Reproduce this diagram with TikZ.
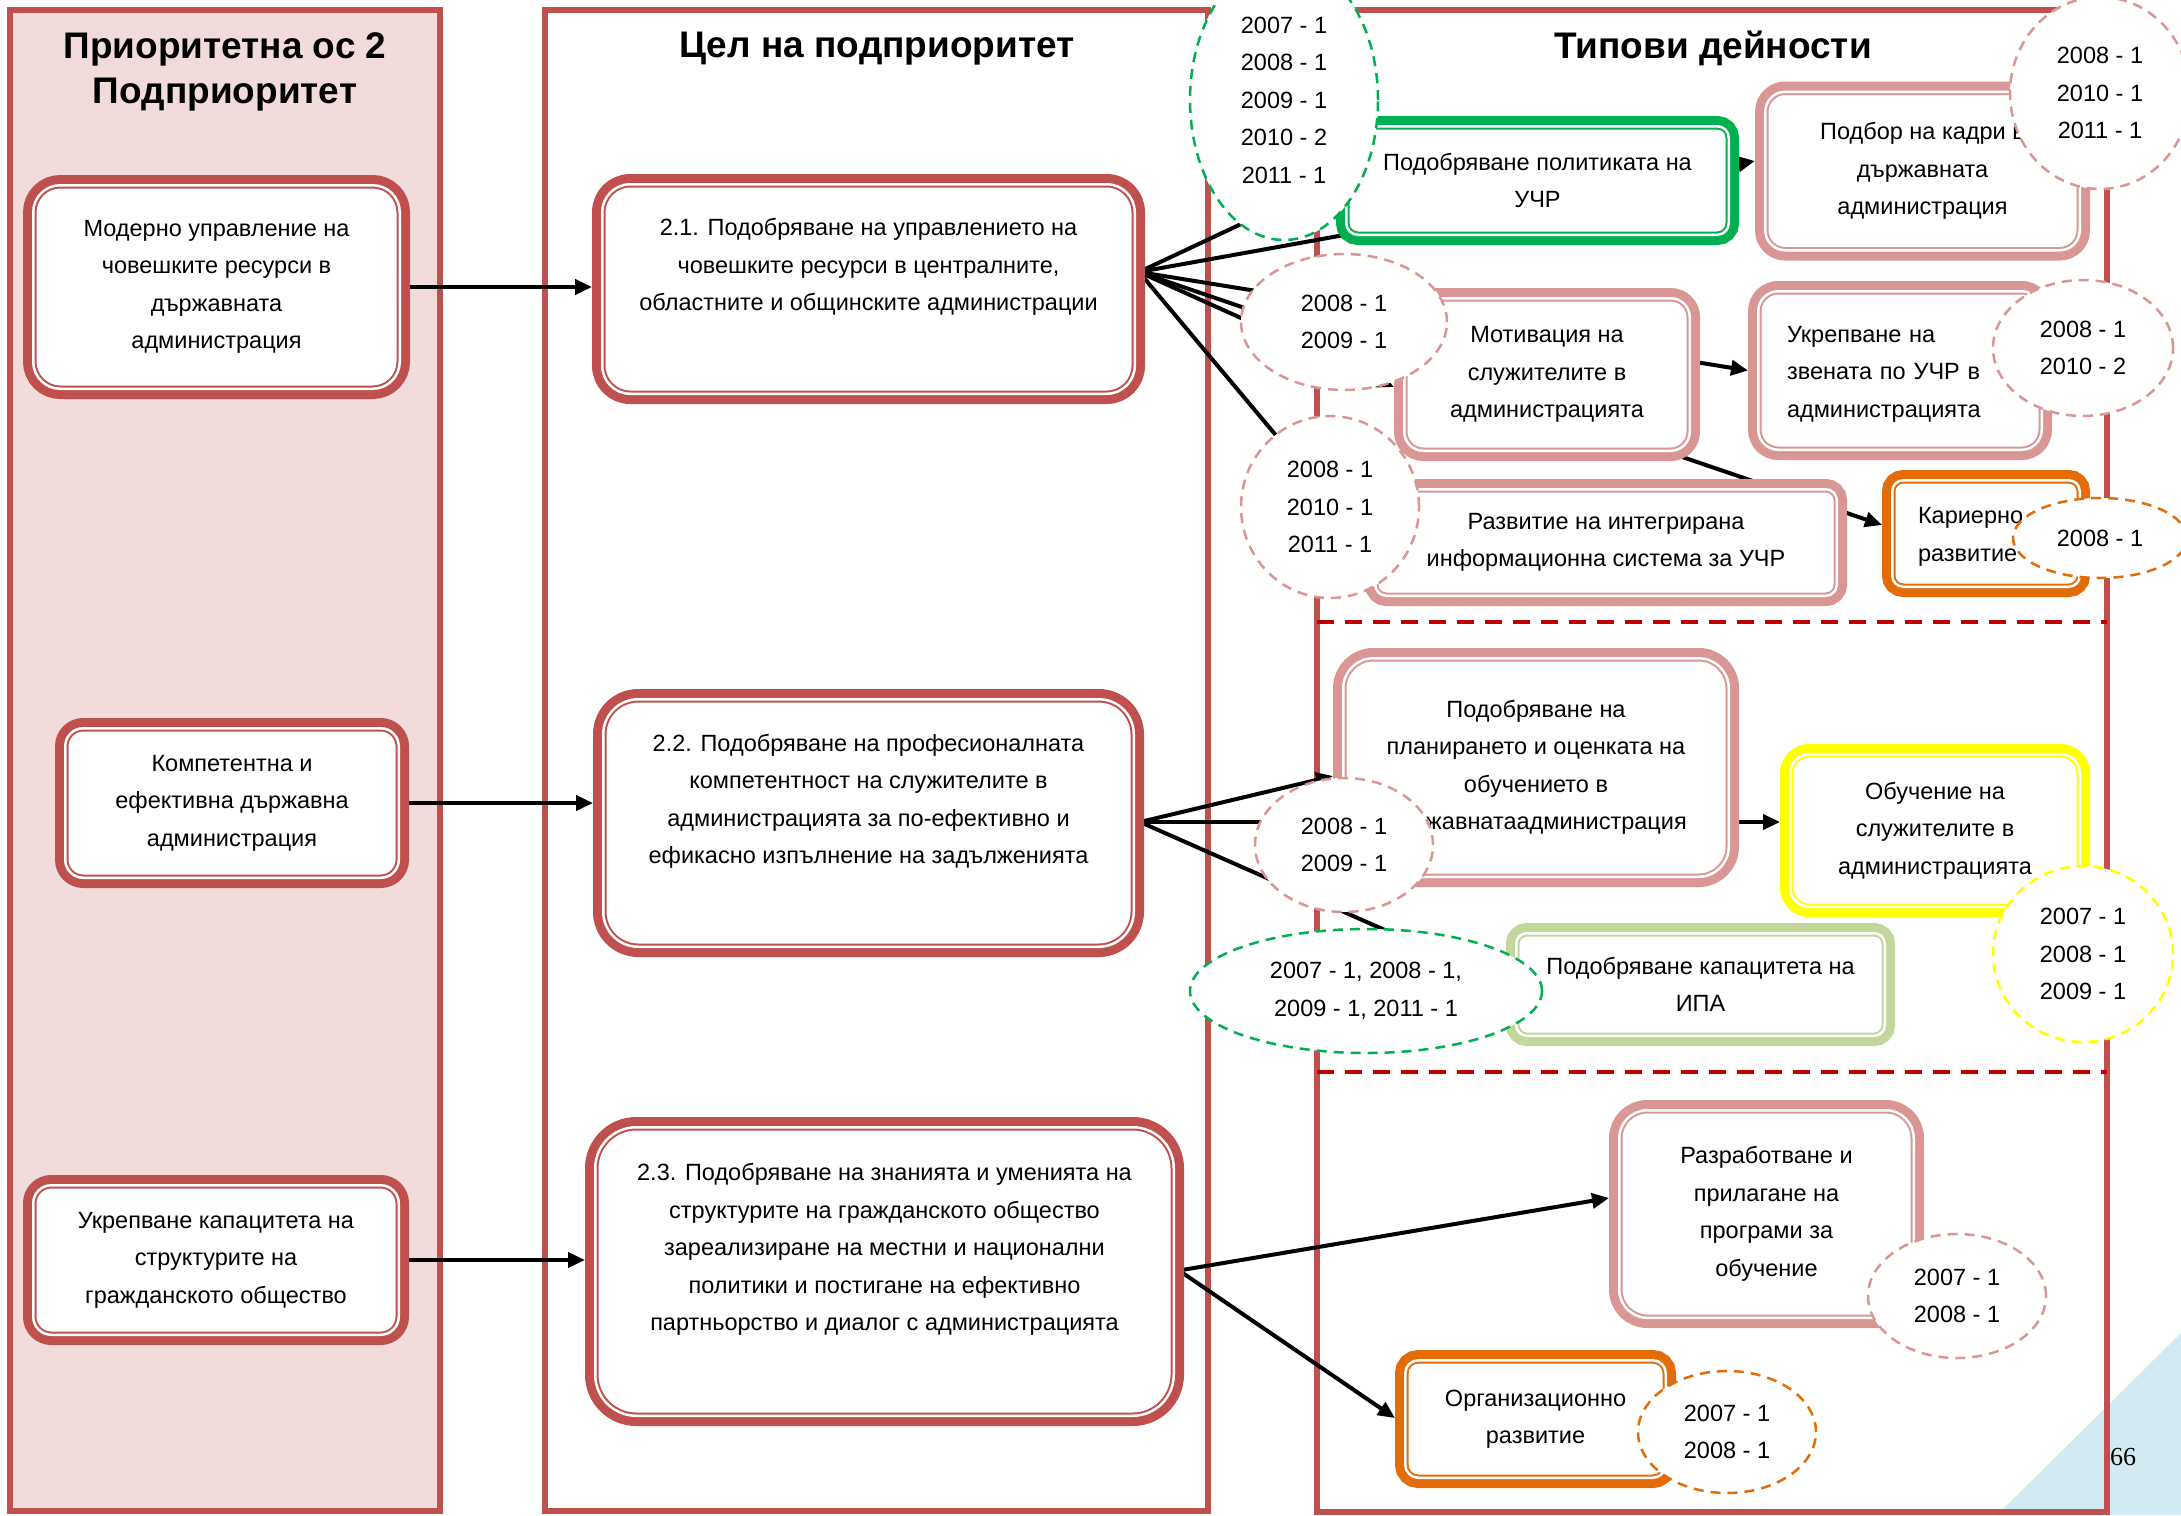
\documentclass[tikz,border=0pt]{standalone}
\usepackage{fontspec}
\setmainfont{Liberation Sans}
\newfontfamily\pagefont{Liberation Serif}
\usetikzlibrary{arrows.meta,shapes.geometric}

\definecolor{redline}{HTML}{C0504D}
\definecolor{pinkfill}{HTML}{F2DCDB}
\definecolor{rosy}{HTML}{D99694}
\definecolor{leaf}{HTML}{00B050}
\definecolor{amber}{HTML}{E36C09}
\definecolor{lemon}{HTML}{FFFF00}
\definecolor{sage}{HTML}{C3D69B}
\definecolor{sepred}{HTML}{C00000}
\definecolor{sky}{RGB}{210,234,241}

\pgfdeclarelayer{edges}
\pgfsetlayers{edges,main}

\tikzset{
  txt/.style={font=\fontsize{23.5}{37.5}\selectfont, align=center},
  lefttxt/.style={text width=#1, align=left,
    execute at begin node={\rule{0pt}{23pt}}},
  head/.style={font=\fontsize{37}{45}\selectfont\bfseries, align=center},
  dbox/.style={txt, draw=#1, fill=white, line width=2pt, double=white,
    double distance=2.5pt, preaction={draw=#1, line width=20.5pt},
    inner sep=0pt, outer sep=10.25pt},
  yrs/.style={txt, ellipse, draw=#1, fill=white, line width=2.5pt,
    dash pattern=on 10pt off 7pt, inner sep=0pt},
  arr/.style={-{Triangle[length=17pt,width=15pt]}, line width=4pt},
}

\begin{document}
\begin{tikzpicture}[x=1pt,y=-1pt]
\useasboundingbox (0,0) rectangle (2181,1515);
\clip (0,0) rectangle (2181,1515);

\begin{pgfonlayer}{edges}
  % угъл
  \fill[sky] (1997,1515) -- (2181,1333) -- (2181,1515) -- cycle;
  % колони
  \draw[redline, line width=6pt, fill=pinkfill] (10,10) rectangle (440,1511);
  \draw[redline, line width=6pt] (545,10) rectangle (1208,1511);
  \draw[redline, line width=6pt] (1317,10) rectangle (2107,1512);
  % разделители
  \draw[sepred, line width=4pt, dash pattern=on 17pt off 11pt] (1317,622) -- (2107,622);
  \draw[sepred, line width=4pt, dash pattern=on 17pt off 11pt] (1317,1072) -- (2107,1072);
\end{pgfonlayer}

% заглавия
\node[head] (t1) at (225,72) {Приоритетна ос 2\\Подприоритет};
\node[head] (t2) at (877,49) {Цел на подприоритет};
\node[head] (t3) at (1713,48) {Типови дейности};

% подприоритети
\node[dbox=redline, minimum width=366.5pt, minimum height=203.5pt, rounded corners=27pt]
  (sp1) at (216.5,287) {Модерно управление на\\човешките ресурси в\\държавната\\администрация};
\node[dbox=redline, minimum width=333.5pt, minimum height=149.5pt, rounded corners=18pt]
  (sp2) at (232,803) {Компетентна и\\ефективна държавна\\администрация};
\node[dbox=redline, minimum width=365.5pt, minimum height=149.5pt, rounded corners=18pt]
  (sp3) at (216,1260) {Укрепване капацитета на\\структурите на\\гражданското общество};

% цели
\node[dbox=redline, minimum width=532.5pt, minimum height=209.5pt, rounded corners=28pt]
  (g21) at (868.5,289) {2.1. Подобряване на управлението на\\човешките ресурси в централните,\\областните и общинските администрации\\\strut};
\node[dbox=redline, minimum width=530.5pt, minimum height=247.5pt, rounded corners=35pt]
  (g22) at (868.5,823) {2.2. Подобряване на професионалната\\компетентност на служителите в\\администрацията за по-ефективно и\\ефикасно изпълнение на задълженията\\\strut};
\node[dbox=redline, minimum width=578.5pt, minimum height=288.5pt, rounded corners=41pt]
  (g23) at (884.5,1271.5) {2.3. Подобряване на знанията и уменията на\\структурите на гражданското общество\\зареализиране на местни и национални\\политики и постигане на ефективно\\партньорство и диалог с администрацията\\\strut};

% дейности
\node[dbox=leaf, minimum width=382.5pt, minimum height=108.5pt, rounded corners=11.5pt]
  (politika) at (1537.5,180.5) {Подобряване политиката на\\УЧР};
\node[dbox=rosy, minimum width=314.5pt, minimum height=158.5pt, rounded corners=20pt]
  (podbor) at (1922.5,171) {Подбор на кадри в\\държавната\\администрация};
\node[dbox=rosy, minimum width=285.5pt, minimum height=152.5pt, rounded corners=19pt]
  (motiv) at (1547,374.5) {Мотивация на\\служителите в\\администрацията};
\node[dbox=rosy, minimum width=283.5pt, minimum height=158.5pt, rounded corners=20pt,
  lefttxt=226pt]
  (zvena) at (1900,370.5) {Укрепване на\\звената по УЧР в\\администрацията};
\node[dbox=rosy, minimum width=461.5pt, minimum height=106.5pt, rounded corners=11pt]
  (infosys) at (1606,542.5) {Развитие на интегрирана\\информационна система за УЧР};
\node[dbox=amber, minimum width=187.5pt, minimum height=106.5pt, rounded corners=11pt,
  lefttxt=136pt]
  (kariera) at (1986,533.5) {Кариерно\\развитие};
\node[dbox=rosy, minimum width=385.5pt, minimum height=218.5pt, rounded corners=30pt]
  (planir) at (1536,767.5) {Подобряване на\\планирането и оценката на\\обучението в\\държавнатаадминистрация};
\node[dbox=lemon, minimum width=289.5pt, minimum height=152.5pt, rounded corners=19pt]
  (obuch) at (1935,830.5) {Обучение на\\служителите в\\администрацията};
\node[dbox=sage, minimum width=368.5pt, minimum height=102.5pt, rounded corners=10.5pt]
  (ipa) at (1700.5,984.5) {Подобряване капацитета на\\ИПА};
\node[dbox=rosy, minimum width=294.5pt, minimum height=207.5pt, rounded corners=28pt]
  (programi) at (1766.5,1214) {Разработване и\\прилагане на\\програми за\\обучение};
\node[dbox=amber, minimum width=260.5pt, minimum height=117.5pt, rounded corners=13pt]
  (orgraz) at (1535.5,1419) {Организационно\\развитие};

% връзки
\begin{pgfonlayer}{edges}
  \draw[arr] (sp1.east) -- (sp1.east -| g21.west);
  \draw[arr] (sp2.east) -- (sp2.east -| g22.west);
  \draw[arr] (sp3.east) -- (sp3.east -| g23.west);
  \coordinate (f21) at ([shift={(-6pt,17pt)}]g21.east);
  \foreach \t/\s in {politika/1, podbor/10, motiv/-12.5, zvena/0, kariera/8.5, infosys/1}
    \draw[arr] (f21) -- ([yshift=\s pt]\t.west);
  \coordinate (f22) at ([xshift=-4pt,yshift=1pt]g22.east);
  \draw[arr] (f22) -- ([yshift=-8.5pt]planir.west);
  \draw[arr] (f22) -- (f22 -| obuch.west);
  \draw[arr] (f22) -- ([yshift=1pt]ipa.west);
  \coordinate (f23) at ([xshift=-5pt,yshift=1pt]g23.east);
  \draw[arr] (f23) -- ([yshift=16pt]programi.west);
  \draw[arr] (f23) -- ([yshift=1pt]orgraz.west);
\end{pgfonlayer}

% години
\node[yrs=leaf, minimum width=188pt, minimum height=280pt] (y1) at (1284,100)
  {2007 - 1\\2008 - 1\\2009 - 1\\2010 - 2\\2011 - 1};
\node[yrs=rosy, minimum width=180pt, minimum height=192pt] (y2) at (2100,93)
  {2008 - 1\\2010 - 1\\2011 - 1};
\node[yrs=rosy, minimum width=206pt, minimum height=136pt] (y3) at (1344,322)
  {2008 - 1\\2009 - 1};
\node[yrs=rosy, minimum width=178pt, minimum height=182pt] (y4) at (1330,507)
  {2008 - 1\\2010 - 1\\2011 - 1};
\node[yrs=rosy, minimum width=180pt, minimum height=136pt] (y5) at (2083,348)
  {2008 - 1\\2010 - 2};
\node[yrs=amber, minimum width=174pt, minimum height=80pt] (y6) at (2100,538)
  {2008 - 1};
\node[yrs=rosy, minimum width=178pt, minimum height=134pt] (y7) at (1344,845)
  {2008 - 1\\2009 - 1};
\node[yrs=leaf, minimum width=352pt, minimum height=124pt] (y8) at (1366,991)
  {2007 - 1, 2008 - 1,\\2009 - 1, 2011 - 1};
\node[yrs=lemon, minimum width=180pt, minimum height=176pt] (y9) at (2083,954)
  {2007 - 1\\2008 - 1\\2009 - 1};
\node[yrs=rosy, minimum width=178pt, minimum height=124pt] (y10) at (1957,1296)
  {2007 - 1\\2008 - 1};
\node[yrs=amber, minimum width=178pt, minimum height=122pt] (y11) at (1727,1432)
  {2007 - 1\\2008 - 1};

% страница
\node[font=\pagefont\fontsize{26}{30}\selectfont, anchor=west, inner sep=0pt]
  (pnum) at (2110,1457) {66};
\end{tikzpicture}
\end{document}
